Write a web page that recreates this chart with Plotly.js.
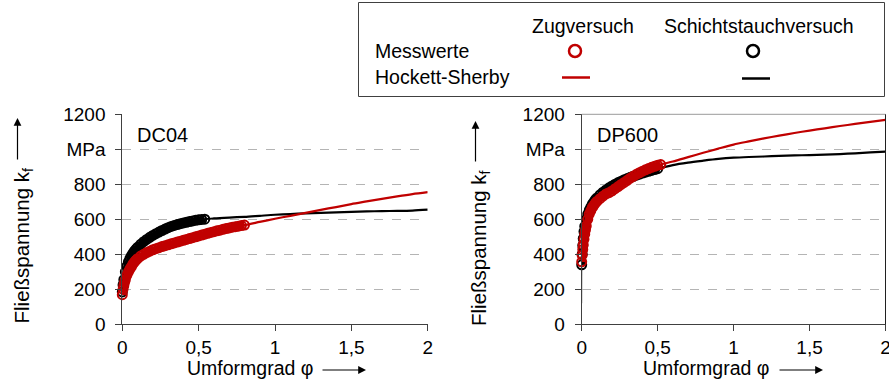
<!DOCTYPE html>
<html>
<head>
<meta charset="utf-8">
<script src="https://cdn.plot.ly/plotly-3.0.1.min.js"></script>
<style>html,body{margin:0;padding:0;background:#fff;}#chart{width:889px;height:384px;}</style>
</head>
<body>
<div id="chart"></div>
<script>
// ---------- DATA ----------
// DC04 – Zugversuch (tensile test) measured values
const dc04ZugPhi = [0,0.005,0.01,0.015,0.02,0.03,0.04,0.05,0.06,0.07,0.08,0.09,0.10,0.12,0.14,0.16,0.18,0.20,0.22,0.24,0.26,0.28,0.30,0.32,0.34,0.36,0.38,0.40,0.42,0.44,0.46,0.48,0.50,0.52,0.54,0.56,0.58,0.60,0.62,0.64,0.66,0.68,0.70,0.72,0.74,0.76,0.78,0.80];
const dc04ZugKf  = [169,200,222,240,255,280,300,316,330,345,357,367,375,390,400,410,418,426,432,438,444,449,454,460,465,470,475,480,485,490,495,500,505,510,515,520,525,529,534,538,543,547,551,555,558,561,564,567];
// DC04 – Schichtstauchversuch (layer compression test) measured values
const dc04SchPhi = [0,0.005,0.01,0.02,0.03,0.04,0.05,0.06,0.07,0.08,0.09,0.10,0.12,0.14,0.16,0.18,0.20,0.22,0.24,0.26,0.28,0.30,0.32,0.34,0.36,0.38,0.40,0.42,0.44,0.46,0.48,0.50,0.52,0.54];
const dc04SchKf  = [185,225,255,300,332,357,377,393,407,419,430,440,457,472,485,497,508,518,527,536,544,552,559,565,570,575,579,583,587,591,594,597,599,601];
// Hockett-Sherby fit abscissa
const hsPhi = [0,0.05,0.1,0.2,0.3,0.4,0.5,0.6,0.7,0.8,0.9,1.0,1.1,1.2,1.3,1.4,1.5,1.6,1.7,1.8,1.9,2.0];
// DC04 – Hockett-Sherby fits
const dc04HsZug = [169,316,375,426,454,480,505,529,551,567,585,603,620,637,654,670,687,702,717,731,744,755];
const dc04HsSch = [185,377,440,508,552,579,597,605,610,614,620,626,630,634,637,640,643,645,647,648,650,655];

// DP600 – Zugversuch measured values
const dp600ZugPhi = [0,0.003,0.007,0.01,0.015,0.02,0.025,0.03,0.04,0.05,0.06,0.07,0.08,0.09,0.10,0.12,0.14,0.16,0.18,0.20,0.22,0.24,0.26,0.28,0.30,0.32,0.34,0.36,0.38,0.40,0.42,0.44,0.46,0.48,0.50,0.52];
const dp600ZugKf  = [357,395,428,455,486,515,540,562,600,630,650,668,680,692,702,718,732,745,752,762,775,787,799,811,823,835,846,857,866,875,883,890,897,903,909,913];
// DP600 – Schichtstauchversuch measured values
const dp600SchPhi = [0,0.003,0.007,0.01,0.015,0.02,0.03,0.04,0.05,0.06,0.07,0.08,0.09,0.10,0.12,0.14,0.16,0.18,0.20,0.22,0.24,0.26,0.28,0.30,0.32,0.34,0.36,0.38,0.40,0.42,0.44,0.46,0.48,0.50];
const dp600SchKf  = [340,400,450,490,530,560,600,630,652,670,686,700,712,722,740,755,768,780,791,801,810,818,826,833,840,846,852,858,864,869,874,879,884,889];
// DP600 – elastic start of the compression curve (grey)
const dp600ElPhi = [0,0.002];
const dp600ElKf  = [121,351];
// DP600 – Hockett-Sherby fits
const dp600HsZug = [357,630,702,762,823,875,909,930,955,980,1004,1027,1045,1062,1078,1093,1107,1120,1133,1145,1157,1168];
const dp600HsSch = [340,652,722,791,833,864,889,910,924,935,945,952,956,959,962,965,967,970,973,977,982,987];

// Axis ticks
const xTickVals = [0,0.5,1,1.5,2];
const xTickText = ['0','0,5','1','1,5','2'];
const yTickVals = [0,200,400,600,800,1000,1200];
const yTickText = ['0','200','400','600','800','MPa','1200'];
const yGridVals = [200,400,600,800,1000];

// ---------- STYLE ----------
const RED = '#c00000';
const BLK = '#000000';
const FONT = 'Liberation Sans, Arial, sans-serif';
const W = 889, H = 384;
const px = v => v / W;
const py = v => 1 - v / H;

function meas(x, y, color, xa, ya) {
  return {x, y, xaxis: xa, yaxis: ya, type: 'scatter', mode: 'lines+markers', cliponaxis: false,
    line: {color, width: 7},
    marker: {symbol: 'circle-open', size: 9, color, line: {width: 2, color}}, hoverinfo: 'skip'};
}
function fit(x, y, color, xa, ya, w, shape) {
  return {x, y, xaxis: xa, yaxis: ya, type: 'scatter', mode: 'lines', cliponaxis: false,
    line: {color, width: w || 2.2, shape: shape || 'spline', smoothing: 0.8}, hoverinfo: 'skip'};
}

const traces = [
  fit(hsPhi, dc04HsSch, BLK, 'x', 'y'),
  meas(dc04SchPhi, dc04SchKf, BLK, 'x', 'y'),
  fit(hsPhi, dc04HsZug, RED, 'x', 'y'),
  meas(dc04ZugPhi, dc04ZugKf, RED, 'x', 'y'),

  fit(dp600ElPhi, dp600ElKf, '#b8b8b8', 'x2', 'y2', 1.5, 'linear'),
  fit(hsPhi, dp600HsSch, BLK, 'x2', 'y2'),
  meas(dp600SchPhi, dp600SchKf, BLK, 'x2', 'y2'),
  fit(hsPhi, dp600HsZug, RED, 'x2', 'y2'),
  meas(dp600ZugPhi, dp600ZugKf, RED, 'x2', 'y2'),
];

function xAxis(d0, d1, anchor) {
  return {domain: [px(d0), px(d1)], range: [0, 2], anchor, fixedrange: true,
    showline: true, linecolor: '#404040', linewidth: 1, zeroline: false, showgrid: false,
    ticks: 'outside', ticklen: 6, tickcolor: '#404040', tickmode: 'array', ticklabeloverflow: 'allow',
    tickvals: xTickVals, ticktext: xTickText, tickfont: {family: FONT, size: 19, color: '#000'}};
}
function yAxis(anchor) {
  return {domain: [py(324.3), py(114.3)], range: [0, 1200], anchor, fixedrange: true,
    showline: true, linecolor: '#404040', linewidth: 1, zeroline: false, showgrid: false,
    ticks: 'outside', ticklen: 6, tickcolor: '#404040', tickmode: 'array', ticklabelstandoff: 6,
    tickvals: yTickVals, ticktext: yTickText, tickfont: {family: FONT, size: 19, color: '#000'},
    minor: {tickmode: 'array', tickvals: yGridVals, showgrid: true, gridcolor: '#b4b4b4',
      griddash: 'dash', gridwidth: 1, ticks: ''}};
}

function txt(text, x, y, size, opts) {
  return Object.assign({text, x: px(x), y: py(y), xref: 'paper', yref: 'paper', showarrow: false,
    font: {family: FONT, size: size, color: '#000'}, xanchor: 'center', yanchor: 'middle'}, opts || {});
}
function arrow(x, y, ax, ay) {
  return {text: '', x: px(x), y: py(y), xref: 'paper', yref: 'paper', showarrow: true,
    ax, ay, arrowhead: 2, arrowsize: 1.3, arrowwidth: 1.2, arrowcolor: '#000', standoff: 0, startstandoff: 0};
}

const annotations = [
  txt('DC04', 135, 135, 20, {xanchor: 'left'}),
  txt('DP600', 595, 135, 20, {xanchor: 'left'}),
  // y titles
  txt('Fließspannung k<sub>f</sub>', 22.5, 246, 20.5, {textangle: -90}),
  txt('Fließspannung k<sub>f</sub>', 480, 248, 20.5, {textangle: -90}),
  arrow(17.5, 118, 0, 43),
  arrow(475.5, 121, 0, 42),
  // x titles
  txt('Umformgrad φ', 250, 367.5, 19.5),
  txt('Umformgrad φ', 706, 367.5, 19.5),
  arrow(366, 370, -45, 0),
  arrow(823, 370, -45, 0),
  // legend
  txt('Zugversuch', 583, 26, 19.5),
  txt('Schichtstauchversuch', 759, 26, 19.5),
  txt('Messwerte', 373, 51, 19.5, {xanchor: 'left'}),
  txt('Hockett-Sherby', 373, 77, 19.5, {xanchor: 'left'}),
];

const shapes = [
  // legend frame and glyphs
  {type: 'rect', xref: 'paper', yref: 'paper', x0: px(358.5), x1: px(884.5), y0: py(96.5), y1: py(2.5),
    line: {color: '#404040', width: 1}, fillcolor: 'rgba(0,0,0,0)'},
  {type: 'circle', xref: 'paper', yref: 'paper', x0: px(569), x1: px(581), y0: py(57), y1: py(45),
    line: {color: RED, width: 2.5}},
  {type: 'circle', xref: 'paper', yref: 'paper', x0: px(747), x1: px(759), y0: py(57), y1: py(45),
    line: {color: BLK, width: 2.5}},
  {type: 'line', xref: 'paper', yref: 'paper', x0: px(562), x1: px(590), y0: py(77.5), y1: py(77.5),
    line: {color: RED, width: 2.5}},
  {type: 'line', xref: 'paper', yref: 'paper', x0: px(742), x1: px(770), y0: py(78.5), y1: py(78.5),
    line: {color: BLK, width: 2.5}},
  // frame pieces of the right plot (top and right edge)
  {type: 'line', xref: 'x2 domain', yref: 'y2 domain', x0: 0, x1: 1, y0: 1, y1: 1,
    line: {color: '#9a9a9a', width: 1}},
  {type: 'line', xref: 'x2 domain', yref: 'y2 domain', x0: 1, x1: 1, y0: 0, y1: 1,
    line: {color: '#202020', width: 1}},
];

const layout = {
  width: W, height: H, margin: {l: 0, r: 0, t: 0, b: 0},
  paper_bgcolor: '#fff', plot_bgcolor: 'rgba(0,0,0,0)', showlegend: false,
  xaxis: xAxis(122.3, 427.7, 'y'),
  yaxis: yAxis('x'),
  xaxis2: xAxis(581.7, 885.5, 'y2'),
  yaxis2: yAxis('x2'),
  annotations, shapes,
  font: {family: FONT, color: '#000'}
};

Plotly.newPlot('chart', traces, layout, {staticPlot: true, displayModeBar: false});
</script>
</body>
</html>
